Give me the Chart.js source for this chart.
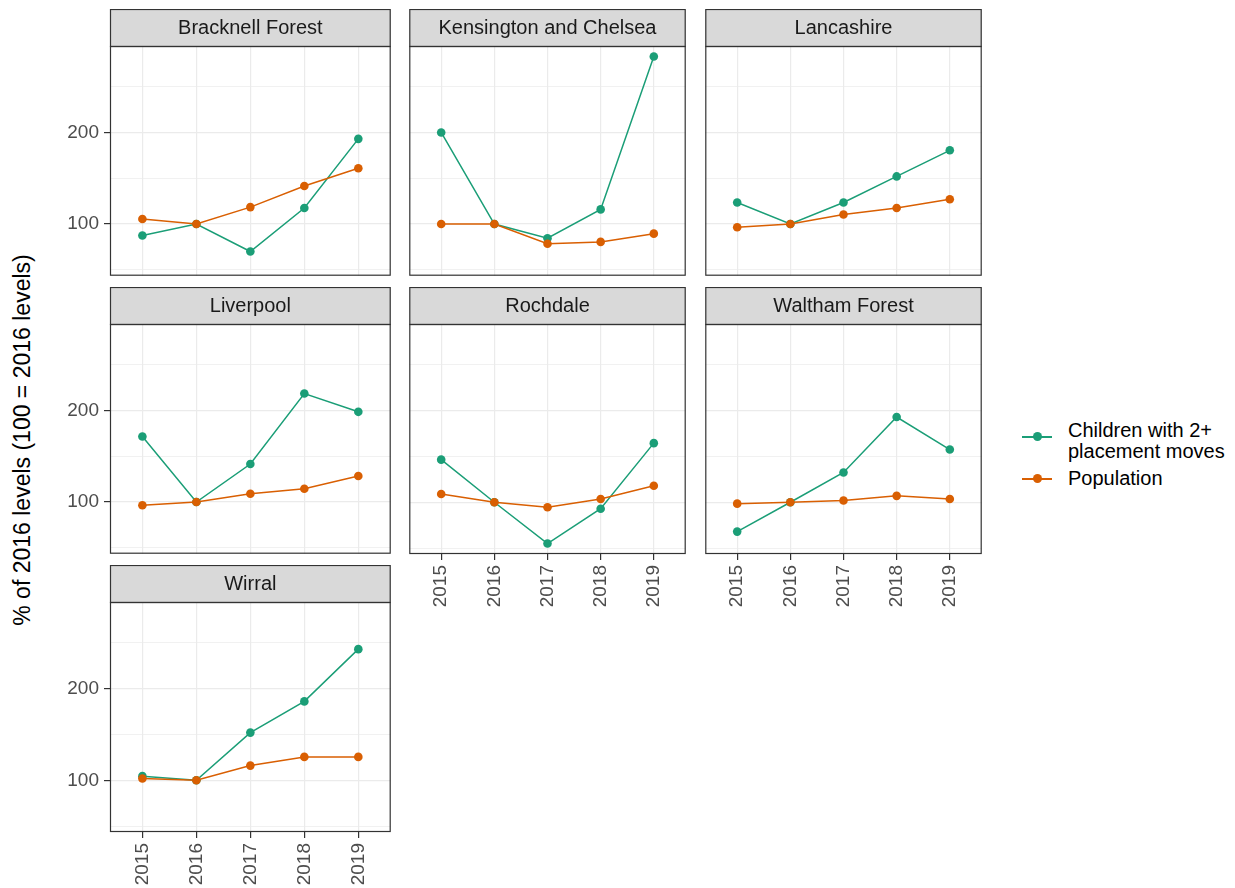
<!DOCTYPE html>
<html>
<head>
<meta charset="utf-8">
<script src="https://cdn.jsdelivr.net/npm/chart.js@4.4.1/dist/chart.umd.min.js"></script>
<style>
  body { margin: 0; background: #fff; width: 1235px; height: 888px; position: relative; overflow: hidden;
         font-family: "Liberation Sans", Arial, sans-serif; }
  canvas { position: absolute; }
  #ytitle { position: absolute; left: 22px; top: 440px; transform: translate(-50%, -50%) rotate(-90deg);
            white-space: nowrap; font-size: 23px; color: #000; }
  .key-line { position: absolute; height: 2px; width: 30px; }
  .key-dot { position: absolute; width: 9px; height: 9px; border-radius: 50%; }
  .key-text { position: absolute; font-size: 20px; line-height: 21px; color: #000; white-space: nowrap; }
</style>
</head>
<body>
<div id="ytitle">% of 2016 levels (100 = 2016 levels)</div>

<div class="key-line" style="left:1022px; top:436px; background:#1B9E77"></div>
<div class="key-dot" style="left:1033px; top:432px; background:#1B9E77"></div>
<div class="key-text" style="left:1068px; top:420px">Children with 2+<br>placement moves</div>
<div class="key-line" style="left:1022px; top:478px; background:#D95F02"></div>
<div class="key-dot" style="left:1033px; top:474px; background:#D95F02"></div>
<div class="key-text" style="left:1068px; top:468px">Population</div>

<script>
// Years on the x axis
const years = [2015, 2016, 2017, 2018, 2019];

// Local authorities, one facet each (row-major order)
const areas = ['Bracknell Forest', 'Kensington and Chelsea', 'Lancashire',
               'Liverpool', 'Rochdale', 'Waltham Forest', 'Wirral'];

// Children with 2+ placement moves, % of 2016 level
const placementMoves = [
  [87.5, 100, 70, 117.5, 193],
  [200, 100, 84.5, 116, 283],
  [123.5, 100, 123.5, 152, 180.5],
  [171.5, 100, 141.5, 218.5, 198.5],
  [146.5, 100, 55, 93, 164.5],
  [68, 100, 132.5, 193, 157.5],
  [104.5, 100, 152, 186, 243]
];

// Population, % of 2016 level
const population = [
  [105.5, 100, 118.5, 141.5, 161],
  [100, 100, 78.5, 80.5, 89.5],
  [96.5, 100, 110.5, 117.5, 127],
  [96.5, 100, 109, 114.5, 128.5],
  [109, 100, 94.5, 103.5, 118],
  [98.5, 100, 102, 107, 103.5],
  [102, 100, 116, 125.5, 125.5]
];

// y gridlines / labelled ticks
const yGrid = [50, 100, 150, 200, 250];
const yLabelled = [100, 200];

const seriesNames = ['Children with 2+ placement moves', 'Population'];
const seriesColors = ['#1B9E77', '#D95F02'];

// Facet geometry
const COL_LEFT = [110, 405, 701];
const ROW_TOP = [9, 287, 565];
const PLOT_W = 283, PLOT_H = 228, STRIP_H = 37;
const Y_AXIS_W = 60, X_AXIS_H = 70;
const INNER_X_EXTRA = 4;   // room the hidden x axis still takes in the layout

// Shared y range: data range with 5% expansion on both sides
const allVals = placementMoves.flat().concat(population.flat());
const dMin = Math.min(...allVals), dMax = Math.max(...allVals);
const pad = (dMax - dMin) * 0.05;
const yMin = dMin - pad, yMax = dMax + pad;

// Panel border and grey strip with the facet title
const panelFrame = {
  id: 'panelFrame',
  afterDraw(chart, args, opts) {
    const { ctx, chartArea: a } = chart;
    ctx.save();
    ctx.fillStyle = '#D9D9D9';
    ctx.fillRect(a.left, a.top - STRIP_H, a.right - a.left, STRIP_H);
    ctx.strokeStyle = '#333333';
    ctx.lineWidth = 1.2;
    ctx.strokeRect(a.left + 0.5, a.top - STRIP_H + 0.5, a.right - a.left - 1, STRIP_H);
    ctx.strokeRect(a.left + 0.5, a.top + 0.5, a.right - a.left - 1, a.bottom - a.top - 1);
    ctx.fillStyle = '#1A1A1A';
    ctx.font = '20px "Liberation Sans", Arial, sans-serif';
    ctx.textAlign = 'center';
    ctx.textBaseline = 'middle';
    ctx.fillText(opts.title, (a.left + a.right) / 2, a.top - STRIP_H / 2 + 1);
    ctx.restore();
  }
};

const tickFont = { family: '"Liberation Sans", Arial, sans-serif', size: 19 };

// Fixed axis box sizes so every panel gets exactly the same plot area
function fixBox(s, size, vertical) {
  if (vertical) s.width = size; else s.height = size;
  s.paddingLeft = 0; s.paddingRight = 0; s.paddingTop = 0; s.paddingBottom = 0;
}

areas.forEach((area, i) => {
  const col = i % 3, row = Math.floor(i / 3);
  const showY = col === 0;
  const showX = (i === 4 || i === 5 || i === 6);
  const axW = showY ? Y_AXIS_W : 0;
  const axH = showX ? X_AXIS_H : 0;

  const cv = document.createElement('canvas');
  const w = axW + PLOT_W + 2;
  const h = STRIP_H + PLOT_H + axH + 2 + (showX ? 0 : INNER_X_EXTRA);
  cv.width = w; cv.height = h;
  cv.style.left = (COL_LEFT[col] - axW) + 'px';
  cv.style.top = ROW_TOP[row] + 'px';
  cv.style.width = w + 'px'; cv.style.height = h + 'px';
  document.body.appendChild(cv);

  const seriesData = [placementMoves[i], population[i]];

  new Chart(cv, {
    type: 'line',
    data: {
      datasets: seriesData.map((vals, s) => ({
        label: seriesNames[s],
        data: years.map((y, k) => ({ x: y, y: vals[k] })),
        borderColor: seriesColors[s],
        backgroundColor: seriesColors[s],
        pointBackgroundColor: seriesColors[s],
        pointBorderWidth: 0,
        pointRadius: 4.3,
        borderWidth: 1.5,
        tension: 0,
        order: s === 0 ? 2 : 1
      }))
    },
    options: {
      responsive: false,
      animation: false,
      devicePixelRatio: 1,
      layout: { padding: { top: STRIP_H, right: 2, left: 0, bottom: showX ? 0 : 2 } },
      plugins: {
        legend: { display: false },
        tooltip: { enabled: false },
        panelFrame: { title: area }
      },
      scales: {
        x: {
          type: 'linear',
          min: 2014.4, max: 2019.6,
          afterBuildTicks: s => { s.ticks = years.map(v => ({ value: v })); },
          afterFit: s => fixBox(s, axH, false),
          border: { display: false },
          grid: { color: '#EBEBEB', lineWidth: 1.2, drawTicks: showX, tickLength: 6,
                  tickColor: '#333333', tickWidth: 1.2 },
          ticks: {
            display: showX, autoSkip: false, minRotation: 90, maxRotation: 90,
            padding: 5, color: '#4D4D4D', font: tickFont,
            callback: v => String(v)
          }
        },
        y: {
          type: 'linear',
          min: yMin, max: yMax,
          afterBuildTicks: s => { s.ticks = yGrid.map(v => ({ value: v })); },
          afterFit: s => fixBox(s, axW, true),
          border: { display: false },
          grid: {
            color: '#EBEBEB',
            lineWidth: c => (c.tick && yLabelled.includes(c.tick.value)) ? 1.2 : 0.7,
            drawTicks: showY, tickLength: 6, tickWidth: 1.2,
            tickColor: c => (c.tick && yLabelled.includes(c.tick.value)) ? '#333333' : 'rgba(0,0,0,0)'
          },
          ticks: {
            display: showY, padding: 5, color: '#4D4D4D', font: tickFont,
            callback: v => yLabelled.includes(v) ? String(v) : ''
          }
        }
      }
    },
    plugins: [panelFrame]
  });
});
</script>
</body>
</html>
